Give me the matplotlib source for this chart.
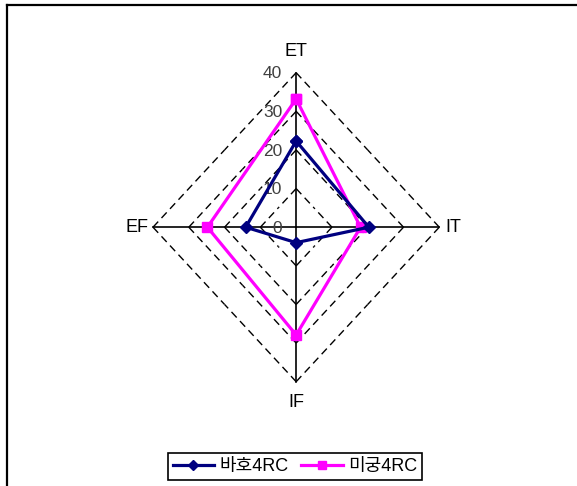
import numpy as np
import matplotlib.pyplot as plt
from matplotlib.lines import Line2D

# Radar data (axes clockwise from top)
axes_names = ["ET", "IT", "IF", "EF"]
baho_4rc = [22.3, 20.3, 4.0, 14.1]
migung_4rc = [33.2, 18.0, 27.9, 24.8]
series_names = ["바호4RC", "미궁4RC"]
rings = [10, 20, 30, 40]
tick_labels = ["0", "10", "20", "30", "40"]

# unit direction of each spoke: ET up, IT right, IF down, EF left
dirs = np.array([[0, 1], [1, 0], [0, -1], [-1, 0]])


def to_xy(vals):
    pts = dirs * np.asarray(vals, dtype=float)[:, None]
    return np.vstack([pts, pts[:1]])


plt.rcParams['font.family'] = ['Liberation Sans', 'Noto Sans CJK KR', 'DejaVu Sans']

fig = plt.figure(figsize=(5.77, 4.86), dpi=100)
ax = fig.add_axes([153 / 577, 1 - 381.7 / 486, 286.3 / 577, 309 / 486])
ax.set_xlim(-40, 40)
ax.set_ylim(-40, 40)
ax.axis('off')

# dashed rings, each half-edge drawn from its vertex so dashes meet at the spokes
for r in rings:
    v = dirs * r
    for i in range(4):
        a, b = v[i], v[(i + 1) % 4]
        mid = (a + b) / 2
        for p in (a, b):
            ax.plot([p[0], mid[0]], [p[1], mid[1]], color='black', lw=1.0,
                    ls=(0, (5.5, 3.5)), clip_on=False, zorder=1)

# spokes
for d in dirs:
    ax.plot([0, d[0] * 40], [0, d[1] * 40], color='black', lw=1.2,
            clip_on=False, zorder=2)

# value labels along the ET spoke
for i, t in enumerate(tick_labels):
    ax.text(-3.9, i * 10 - 0.3, t, ha='right', va='center', fontsize=12.5,
            color='#404040', clip_on=False)

# spoke names
label_pos = [(0, 45.4), (43.8, 0), (0, -45.5), (-44.5, 0)]
for name, (lx, ly) in zip(axes_names, label_pos):
    ax.text(lx, ly, name, ha='center', va='center', fontsize=13, clip_on=False)

xy1 = to_xy(baho_4rc)
xy2 = to_xy(migung_4rc)
l1, = ax.plot(xy1[:, 0], xy1[:, 1], color='#000080', lw=2.3, marker='D',
              ms=6, clip_on=False, zorder=4)
l2, = ax.plot(xy2[:, 0], xy2[:, 1], color='#FF00FF', lw=2.3, marker='s',
              ms=7.5, clip_on=False, zorder=3)

leg = fig.legend([l1, l2], series_names, loc='center',
                 bbox_to_anchor=((168 + 422) / 2 / 577, 1 - 466.5 / 486),
                 ncol=2, fontsize=13, frameon=True, fancybox=False,
                 framealpha=1, edgecolor='black', handlelength=2.3,
                 handletextpad=0.3, columnspacing=0.7, borderpad=0.25,
                 markerscale=0.8)
leg.get_frame().set_linewidth(1.2)

# outer chart frame (top and left edges)
fig.add_artist(Line2D([7 / 577, 1], [1 - 5 / 486] * 2, transform=fig.transFigure,
                      color='black', lw=1.6))
fig.add_artist(Line2D([7 / 577] * 2, [1 - 5 / 486, 0], transform=fig.transFigure,
                      color='black', lw=1.6))

fig.savefig("out.png", dpi=100)
